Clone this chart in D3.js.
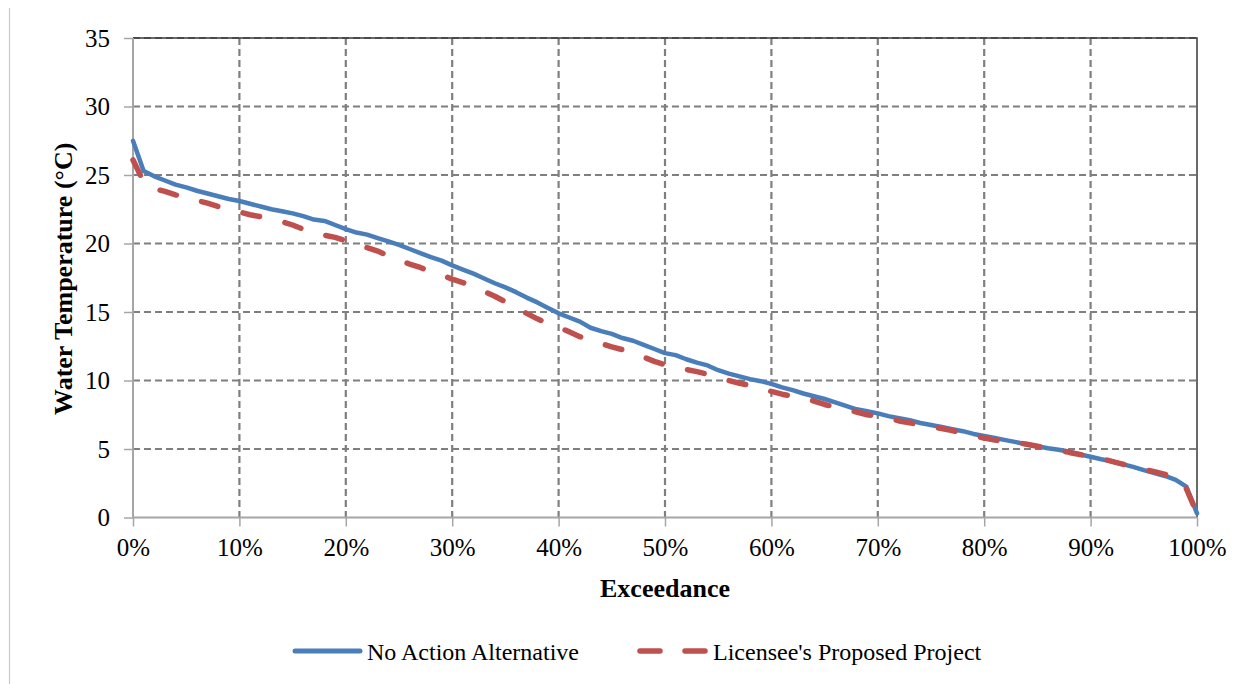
<!DOCTYPE html>
<html>
<head>
<meta charset="utf-8">
<script src="https://cdn.jsdelivr.net/npm/d3@7"></script>
<style>
  html, body { margin: 0; padding: 0; background: #ffffff; }
  svg { display: block; }
  svg text { font-family: "Liberation Serif", Tinos, "Times New Roman", "DejaVu Serif", serif; }
</style>
</head>
<body>
<svg id="chart" width="1257" height="684"></svg>
<script>
// ---- data ----
const exceedance = [0,1,2,3,4,5,6,7,8,9,10,11,12,13,14,15,16,17,18,19,20,21,22,23,24,25,26,27,28,29,30,31,32,33,34,35,36,37,38,39,40,41,42,43,44,45,46,47,48,49,50,51,52,53,54,55,56,57,58,59,60,61,62,63,64,65,66,67,68,69,70,71,72,73,74,75,76,77,78,79,80,81,82,83,84,85,86,87,88,89,90,91,92,93,94,95,96,97,98,99,100];
const noActionAlternative = [27.5,25.3,24.9,24.6,24.3,24.1,23.85,23.65,23.45,23.25,23.1,22.9,22.7,22.5,22.35,22.2,22.0,21.75,21.65,21.35,21.05,20.8,20.65,20.4,20.15,19.9,19.6,19.3,19.0,18.75,18.4,18.1,17.8,17.45,17.1,16.8,16.45,16.05,15.7,15.3,14.9,14.6,14.3,13.85,13.6,13.4,13.1,12.9,12.6,12.3,12.0,11.85,11.55,11.3,11.1,10.75,10.5,10.3,10.1,9.95,9.75,9.5,9.3,9.05,8.85,8.65,8.4,8.15,7.9,7.75,7.6,7.4,7.25,7.1,6.9,6.75,6.6,6.45,6.3,6.1,5.95,5.8,5.65,5.5,5.35,5.2,5.05,4.95,4.8,4.6,4.43,4.25,4.1,3.9,3.7,3.46,3.25,3.03,2.75,2.25,0.3];
const licenseeProposed = [26.1,24.5,24.0,23.8,23.55,23.35,23.15,22.95,22.7,22.5,22.3,22.1,21.95,21.8,21.6,21.35,21.05,20.8,20.6,20.45,20.2,19.95,19.7,19.45,19.1,18.8,18.5,18.25,17.95,17.7,17.4,17.15,16.85,16.5,16.15,15.75,15.3,14.9,14.5,14.15,13.9,13.55,13.2,12.95,12.7,12.45,12.25,12.0,11.7,11.4,11.15,10.95,10.8,10.65,10.45,10.25,10.0,9.8,9.65,9.45,9.2,9.0,8.85,8.75,8.5,8.25,8.05,7.9,7.7,7.5,7.4,7.25,7.05,6.92,6.75,6.62,6.5,6.35,6.15,5.95,5.8,5.65,5.55,5.47,5.35,5.2,5.05,4.92,4.75,4.6,4.45,4.3,4.1,3.9,3.65,3.5,3.35,3.15,2.9,2.1,0.3];
const xTicks = [0,10,20,30,40,50,60,70,80,90,100];
const yTicks = [0,5,10,15,20,25,30,35];
const seriesNames = ["No Action Alternative", "Licensee's Proposed Project"];
const xTitle = "Exceedance";
const yTitle = "Water Temperature (°C)";

// ---- layout ----
const svg = d3.select("#chart");
const L = 133, R = 1197, T = 38, B = 517.5;
const x = d3.scaleLinear().domain([0, 100]).range([L, R]);
const y = d3.scaleLinear().domain([0, 35]).range([B, T]);
const blue = "#4a7ebb", red = "#c0504d", gridC = "#7f7f7f";
const serif = '"Liberation Serif", Tinos, "Times New Roman", "DejaVu Serif", serif';

svg.append("rect").attr("width", 1257).attr("height", 684).attr("fill", "#fff");
// outer chart frame left edge
svg.append("line").attr("x1", 9.5).attr("x2", 9.5).attr("y1", 8).attr("y2", 684)
  .attr("stroke", "#c8c8c8").attr("stroke-width", 1.2);

// grid
const g = svg.append("g");
g.selectAll(".hg").data(yTicks.filter(d => d > 0)).join("line")
  .attr("x1", L).attr("x2", R).attr("y1", d => y(d)).attr("y2", d => y(d))
  .attr("stroke", gridC).attr("stroke-width", 2.2).attr("stroke-dasharray", "7,4");
g.selectAll(".vg").data(xTicks.filter(d => d > 0 && d < 100)).join("line")
  .attr("x1", d => x(d)).attr("x2", d => x(d)).attr("y1", T).attr("y2", B)
  .attr("stroke", gridC).attr("stroke-width", 2.2).attr("stroke-dasharray", "7,4");
// plot border top/right
svg.append("path").attr("d", `M${L},${T}H${R}V${B}`).attr("fill", "none")
  .attr("stroke", "#3a3a3a").attr("stroke-width", 1.5);

// axes
const yAxis = svg.append("g").attr("transform", `translate(${L},0)`)
  .call(d3.axisLeft(y).tickValues(yTicks).tickSize(9).tickPadding(14).tickFormat(d3.format("d")));
const xAxis = svg.append("g").attr("transform", `translate(0,${B})`)
  .call(d3.axisBottom(x).tickValues(xTicks).tickSize(9).tickPadding(12).tickFormat(d => d + "%"));
[yAxis, xAxis].forEach(a => {
  a.attr("font-family", serif).attr("font-size", 25);
  a.select(".domain").attr("stroke", "#a6a6a6").attr("stroke-width", 2);
  a.selectAll(".tick line").attr("stroke", "#a6a6a6").attr("stroke-width", 1.5);
  a.selectAll("text").attr("fill", "#000").style("font-size", "25px").style("font-family", serif);
});
yAxis.select(".domain").attr("d", `M0,${B}V${T}`);
xAxis.select(".domain").attr("d", `M${L},0H${R}`);

// lines
const pts = vals => exceedance.map((e, i) => [e, vals[i]]);
const line = d3.line().x(d => x(d[0])).y(d => y(d[1]));
svg.append("path").datum(pts(noActionAlternative)).attr("d", line)
  .attr("fill", "none").attr("stroke", blue).attr("stroke-width", 4.5)
  .attr("stroke-linejoin", "round").attr("stroke-linecap", "round");
svg.append("path").datum(pts(licenseeProposed)).attr("d", line)
  .attr("fill", "none").attr("stroke", red).attr("stroke-width", 5.5)
  .attr("stroke-dasharray", "17,26").attr("stroke-linecap", "round").attr("stroke-linejoin", "round");

// titles
svg.append("text").attr("x", (L + R) / 2).attr("y", 597).attr("text-anchor", "middle")
  .style("font-family", serif).style("font-size", "26px").style("font-weight", "bold").text(xTitle);
svg.append("text").attr("transform", `translate(72,${(T + B) / 2 + 1}) rotate(-90)`)
  .attr("text-anchor", "middle").style("font-family", serif)
  .style("font-size", "26px").style("font-weight", "bold").text(yTitle);

// legend
const leg = svg.append("g");
leg.append("line").attr("x1", 295).attr("x2", 360).attr("y1", 651).attr("y2", 651)
  .attr("stroke", blue).attr("stroke-width", 5).attr("stroke-linecap", "round");
leg.append("text").attr("x", 367).attr("y", 660).style("font-family", serif)
  .style("font-size", "24px").text(seriesNames[0]);
leg.append("line").attr("x1", 640).attr("x2", 706).attr("y1", 651).attr("y2", 651)
  .attr("stroke", red).attr("stroke-width", 5.5).attr("stroke-dasharray", "20,25").attr("stroke-linecap", "round");
leg.append("text").attr("x", 713).attr("y", 660).style("font-family", serif)
  .style("font-size", "24px").text(seriesNames[1]);
</script>
</body>
</html>
